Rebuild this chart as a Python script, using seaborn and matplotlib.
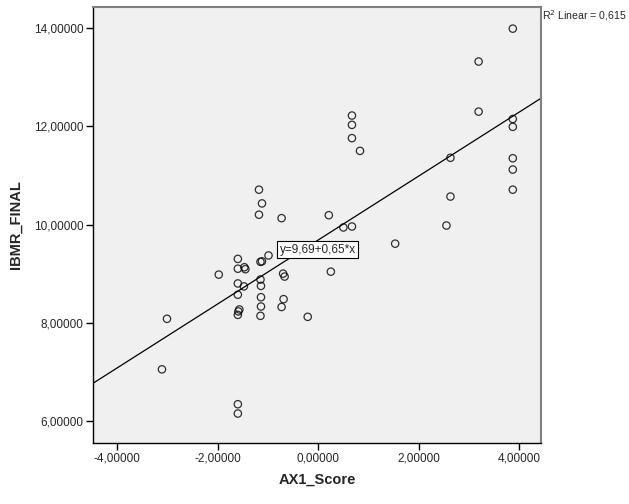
import numpy as np
import pandas as pd
import matplotlib
matplotlib.use("Agg")
import matplotlib.pyplot as plt
import seaborn as sns

ax1_score = [3.87, 3.19, 3.19, 3.87, 3.87, 3.87, 3.87, 3.87, 2.63, 2.63,
             2.55, 0.67, 0.67, 0.67, 0.83, -1.18, -1.12, -1.18, -0.73, 0.21,
             0.50, 0.67, 1.53, -1.60, -1.60, -1.47, -1.45, -1.98, -1.15, -1.12,
             -0.99, -1.60, -1.48, -1.15, -1.14, -0.70, -0.67, 0.25, -1.60, -1.14,
             -0.69, -1.14, -0.73, -1.57, -1.59, -1.60, -1.15, -0.21, -3.01, -3.11,
             -1.60, -1.60]
ibmr_final = [13.99, 13.32, 12.30, 12.15, 11.99, 11.35, 11.12, 10.71, 11.36, 10.57,
              9.98, 12.22, 12.03, 11.76, 11.50, 10.71, 10.43, 10.20, 10.13, 10.19,
              9.94, 9.96, 9.61, 9.30, 9.10, 9.13, 9.09, 8.98, 9.24, 9.25,
              9.37, 8.80, 8.74, 8.88, 8.75, 9.00, 8.94, 9.04, 8.57, 8.52,
              8.48, 8.33, 8.32, 8.27, 8.23, 8.16, 8.14, 8.12, 8.08, 7.05,
              6.34, 6.15]
x_ticks = [-4, -2, 0, 2, 4]
y_ticks = [6, 8, 10, 12, 14]

df = pd.DataFrame({"AX1_Score": ax1_score, "IBMR_FINAL": ibmr_final})

sns.set_style("white")
plt.rcParams['font.family'] = ['Liberation Sans', 'DejaVu Sans']

fig = plt.figure(figsize=(6.29, 5.04), dpi=100)
ax = fig.add_axes([0.148, 0.122, 0.712, 0.865])
ax.set_facecolor("#f0f0f0")
ax.set_xlim(-4.48, 4.43)
ax.set_ylim(5.56, 14.44)

sns.regplot(data=df, x="AX1_Score", y="IBMR_FINAL", ax=ax, ci=None, truncate=False,
            scatter_kws=dict(s=28, facecolors="none", edgecolors="black", linewidths=0.9),
            line_kws=dict(color="black", linewidth=0.9))

ax.set_xticks(x_ticks)
ax.set_yticks(y_ticks)
ax.set_xticklabels([f"{v:.5f}".replace(".", ",") for v in x_ticks], fontsize=8.5)
ax.set_yticklabels([f"{v:.5f}".replace(".", ",") for v in y_ticks], fontsize=8.5)
ax.tick_params(direction="out", length=5, width=1, color="black", bottom=True, left=True, pad=2)
ax.set_xlabel("AX1_Score", fontsize=10.5, fontweight="bold", labelpad=6)
ax.set_ylabel("IBMR_FINAL", fontsize=10.5, fontweight="bold", labelpad=8)

for s in ["left", "bottom"]:
    ax.spines[s].set_color("black")
    ax.spines[s].set_linewidth(1)
for s in ["top", "right"]:
    ax.spines[s].set_color("#808080")
    ax.spines[s].set_linewidth(1.5)

ax.text(-0.77, 9.49, "y=9,69+0,65*x", fontsize=8.5, ha="left", va="center",
        bbox=dict(boxstyle="square,pad=0.2", facecolor="white", edgecolor="black", linewidth=0.8))
fig.text(0.861, 0.97, "R$^2$ Linear = 0,615", fontsize=7.6, ha="left", va="center")

fig.savefig("out.png", dpi=100)
